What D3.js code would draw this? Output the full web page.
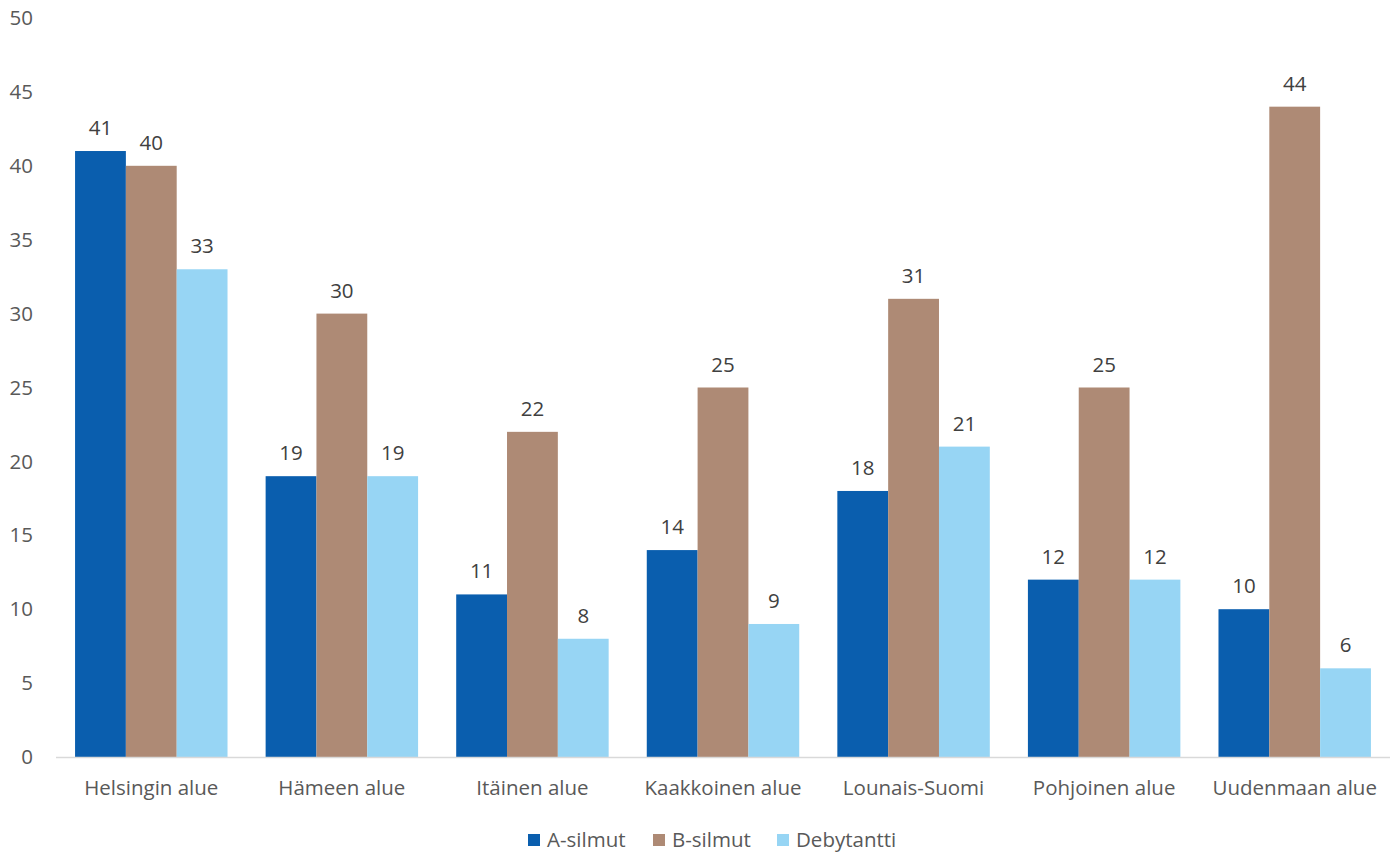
<!DOCTYPE html>
<html>
<head>
<meta charset="utf-8">
<script src="https://cdn.jsdelivr.net/npm/d3@7"></script>
<style>
  body { margin: 0; background: #fff; }
  text { font-family: "Open Sans", "Noto Sans", sans-serif; }
</style>
</head>
<body>
<section></section>
<script>
let categories = ['Helsingin alue', 'Hämeen alue', 'Itäinen alue', 'Kaakkoinen alue', 'Lounais-Suomi', 'Pohjoinen alue', 'Uudenmaan alue'];
let seriesNames = ['A-silmut', 'B-silmut', 'Debytantti'];
let aSilmut = [41, 19, 11, 14, 18, 12, 10];
let bSilmut = [40, 30, 22, 25, 31, 25, 44];
let debytantti = [33, 19, 8, 9, 21, 12, 6];
let yTicks = [0, 5, 10, 15, 20, 25, 30, 35, 40, 45, 50];

let seriesValues = [aSilmut, bSilmut, debytantti];
let colors = d3.scaleOrdinal().domain(seriesNames).range(['#0a5eae', '#ae8a75', '#97d5f4']);

let width = 1397;
let height = 855;
let plotLeft = 56, plotRight = 1390, plotTop = 18, plotBottom = 757;
let fontSize = 20.5;

let svg = d3.select('section')
  .append('svg')
  .attr('width', width)
  .attr('height', height);

let x = d3.scaleBand()
  .domain(categories)
  .range([plotLeft, plotRight])
  .paddingInner(0.2)
  .paddingOuter(0.1);

let xInner = d3.scaleBand()
  .domain(seriesNames)
  .range([0, x.bandwidth()]);

let y = d3.scaleLinear()
  .domain([0, 50])
  .range([plotBottom, plotTop]);

// y tick labels, no axis line
svg.append('g')
  .selectAll('text')
  .data(yTicks)
  .enter()
  .append('text')
  .attr('x', 33)
  .attr('y', (d) => y(d))
  .attr('dy', '0.35em')
  .attr('text-anchor', 'end')
  .attr('font-size', fontSize)
  .attr('fill', '#595959')
  .text((d) => d);

let rows = [];
categories.forEach((c, i) => {
  seriesNames.forEach((s, j) => {
    rows.push({ category: c, series: s, value: seriesValues[j][i] });
  });
});

svg.append('g')
  .selectAll('rect')
  .data(rows)
  .enter()
  .append('rect')
  .attr('x', (d) => x(d.category) + xInner(d.series))
  .attr('y', (d) => y(d.value))
  .attr('width', xInner.bandwidth())
  .attr('height', (d) => y(0) - y(d.value))
  .attr('fill', (d) => colors(d.series));

svg.append('g')
  .selectAll('text')
  .data(rows)
  .enter()
  .append('text')
  .attr('x', (d) => x(d.category) + xInner(d.series) + xInner.bandwidth() / 2)
  .attr('y', (d) => y(d.value) - 16)
  .attr('text-anchor', 'middle')
  .attr('font-size', fontSize)
  .attr('fill', '#404040')
  .text((d) => d.value);

// x axis baseline
svg.append('line')
  .attr('x1', plotLeft)
  .attr('x2', plotRight)
  .attr('y1', y(0) + 0.5)
  .attr('y2', y(0) + 0.5)
  .attr('stroke', '#d9d9d9')
  .attr('stroke-width', 1.5);

svg.append('g')
  .selectAll('text')
  .data(categories)
  .enter()
  .append('text')
  .attr('x', (d) => x(d) + x.bandwidth() / 2)
  .attr('y', 795)
  .attr('text-anchor', 'middle')
  .attr('font-size', fontSize)
  .attr('fill', '#595959')
  .text((d) => d);

// legend
let legendX = [528, 653, 777];
let legend = svg.append('g')
  .selectAll('g')
  .data(seriesNames)
  .enter()
  .append('g')
  .attr('transform', (d, i) => 'translate(' + legendX[i] + ', 834)');

legend.append('rect')
  .attr('width', 12)
  .attr('height', 12)
  .attr('fill', (d) => colors(d));

legend.append('text')
  .attr('x', 19)
  .attr('y', 6)
  .attr('dy', '0.35em')
  .attr('font-size', fontSize)
  .attr('fill', '#595959')
  .text((d) => d);
</script>
</body>
</html>
